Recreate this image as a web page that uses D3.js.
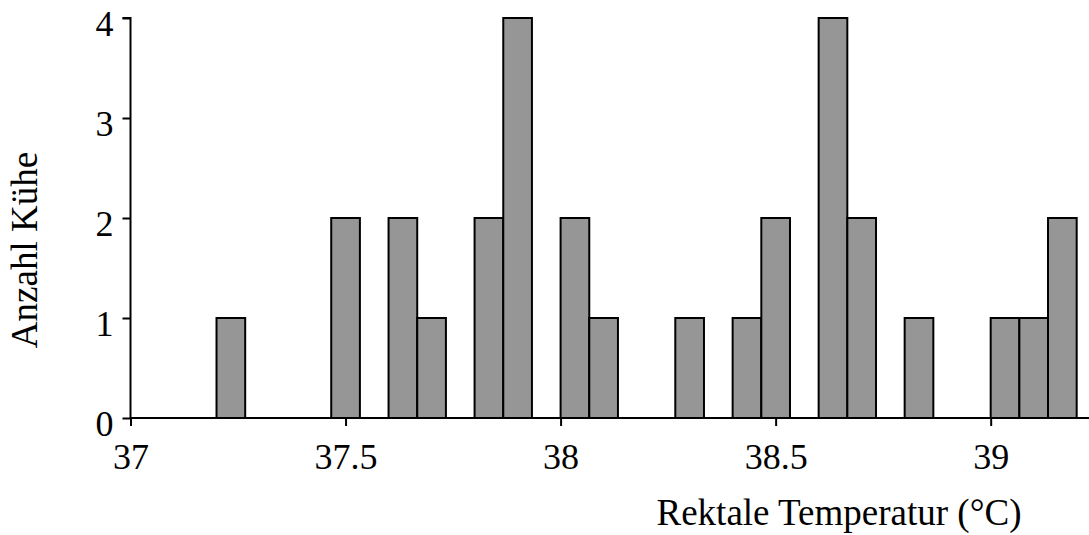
<!DOCTYPE html>
<html>
<head>
<meta charset="utf-8">
<script src="https://cdn.jsdelivr.net/npm/d3@7"></script>
<style>
  html, body { margin: 0; padding: 0; background: #fff; }
  svg { display: block; }
  text { font-family: "Liberation Serif", "Times New Roman", serif; fill: #000; }
</style>
</head>
<body>
<svg id="chart" width="1089" height="535"></svg>
<script>
// Histogram bins: left edge of each bin (°C), bin width 1/15 °C
const binStarts = [37.2, 37.4667, 37.6, 37.6667, 37.8, 37.8667, 38.0, 38.0667, 38.2667,
                   38.4, 38.4667, 38.6, 38.6667, 38.8, 39.0, 39.0667, 39.1333];
const counts    = [1, 2, 2, 1, 2, 4, 2, 1, 1, 1, 2, 4, 2, 1, 1, 1, 2];
const binWidth = 1 / 15;
const xTicks = [37, 37.5, 38, 38.5, 39];
const yTicks = [0, 1, 2, 3, 4];
const xTitle = "Rektale Temperatur (°C)";
const yTitle = "Anzahl Kühe";

const svg = d3.select("#chart");
const x = d3.scaleLinear().domain([37, 39.2]).range([130.5, 1076.7]);
const y = d3.scaleLinear().domain([0, 4]).range([418, 18]);

// bars
svg.append("g").selectAll("rect")
  .data(binStarts.map((s, i) => ({ s, c: counts[i] })))
  .join("rect")
  .attr("x", d => x(d.s))
  .attr("y", d => y(d.c))
  .attr("width", d => x(d.s + binWidth) - x(d.s))
  .attr("height", d => y(0) - y(d.c))
  .attr("fill", "#969696")
  .attr("stroke", "#000")
  .attr("stroke-width", 2);

// x axis
const xAxis = svg.append("g").attr("transform", `translate(0,${y(0)})`)
  .call(d3.axisBottom(x).tickValues(xTicks).tickFormat(d3.format("")).tickSize(8).tickPadding(17));
xAxis.select(".domain").remove();
xAxis.append("line").attr("x1", x(37)).attr("x2", 1089).attr("stroke", "#000").attr("stroke-width", 2);
xAxis.selectAll(".tick line").attr("stroke-width", 2);
xAxis.selectAll(".tick text").attr("font-size", 36).attr("font-family", "Liberation Serif");

// y axis
const yAxis = svg.append("g").attr("transform", `translate(${x(37)},0)`)
  .call(d3.axisLeft(y).tickValues(yTicks).tickFormat(d3.format("d")).tickSize(8).tickPadding(9));
yAxis.select(".domain").attr("stroke-width", 2).attr("d", `M-8,${y(4)}H0V${y(0)}`);
yAxis.selectAll(".tick line").attr("stroke-width", 2);
yAxis.selectAll(".tick text").attr("font-size", 36).attr("font-family", "Liberation Serif")
  .attr("dy", null).attr("transform", "translate(0,17)");

// titles
svg.append("text").attr("x", 839).attr("y", 525).attr("text-anchor", "middle")
  .attr("font-size", 37).text(xTitle);
svg.append("text").attr("transform", "translate(37,250) rotate(-90)").attr("text-anchor", "middle")
  .attr("font-size", 37).text(yTitle);
</script>
</body>
</html>
